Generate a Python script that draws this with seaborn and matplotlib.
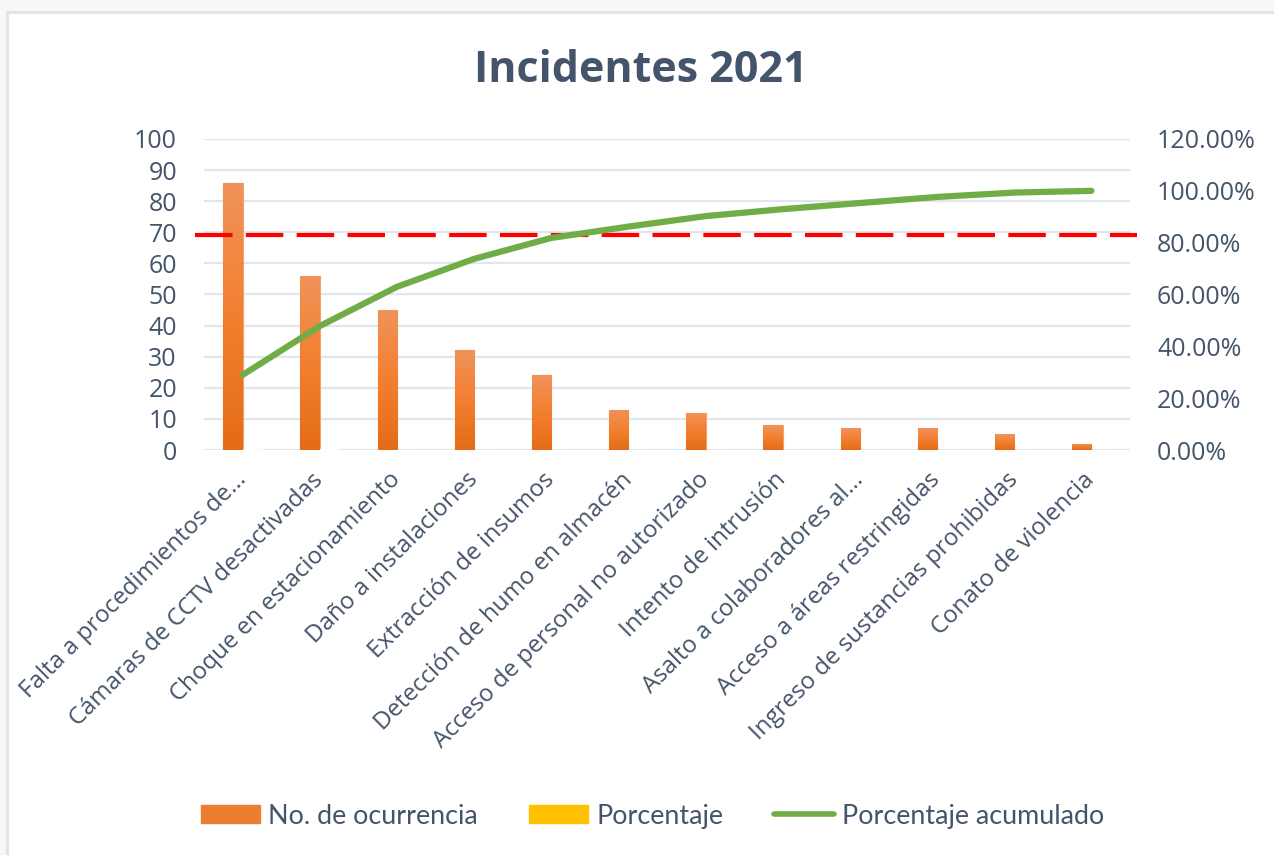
import numpy as np
import pandas as pd
import seaborn as sns
import matplotlib.pyplot as plt
from matplotlib.patches import Rectangle
from matplotlib.lines import Line2D
from matplotlib.patches import Patch
from matplotlib.ticker import FuncFormatter

# datos
categorias = ["Falta a procedimientos de...", "Cámaras de CCTV desactivadas",
              "Choque en estacionamiento", "Daño a instalaciones",
              "Extracción de insumos", "Detección de humo en almacén",
              "Acceso de personal no autorizado", "Intento de intrusión",
              "Asalto a colaboradores al...", "Acceso a áreas restringidas",
              "Ingreso de sustancias prohibidas", "Conato de violencia"]
ocurrencias = [86, 56, 45, 32, 24, 13, 12, 8, 7, 7, 5, 2]
porcentaje = [0.29, 0.19, 0.15, 0.11, 0.08, 0.04, 0.04, 0.03, 0.02, 0.02, 0.02, 0.01]
acumulado = [28.96, 47.81, 62.96, 73.74, 81.82, 86.20, 90.24, 92.93, 95.29, 97.64, 99.33, 100.0]
umbral = 69

sns.set_theme(style="white")
plt.rcParams['font.family'] = ['Open Sans', 'DejaVu Sans']

txt = '#44546A'
naranja = '#ED7D31'
amarillo = '#FFC000'
verde = '#70AD47'
fs = 18

df = pd.DataFrame({
    "categoria": categorias * 2,
    "valor": ocurrencias + porcentaje,
    "serie": ["No. de ocurrencia"] * len(categorias) + ["Porcentaje"] * len(categorias),
})

fig = plt.figure(figsize=(12.74, 8.55), dpi=100)
fig.patch.set_facecolor('#F7F7F7')
fig.patches.append(Rectangle((7/1274, -0.1), 1.2, 1 - 12/855 + 0.1, transform=fig.transFigure,
                             facecolor='white', edgecolor='#DEE3EA', linewidth=2, zorder=-5))

ax = fig.add_axes([204/1274, 1 - 450/855, 926/1274, 311/855])
ax.set_facecolor('none')
sns.barplot(data=df, x="categoria", y="valor", hue="serie", order=categorias,
            palette=[naranja, amarillo], width=0.5, gap=0, ax=ax, legend=False, zorder=3)

# degradado en las barras naranjas
grad = np.linspace(0, 1, 256).reshape(-1, 1)
cmap = sns.blend_palette(['#E46C17', '#F37F30', '#F0935A'], as_cmap=True)
for p in ax.patches[:len(categorias)]:
    x0, y0 = p.get_x(), p.get_y()
    w, h = p.get_width(), p.get_height()
    im = ax.imshow(grad, extent=[x0, x0 + w, y0, y0 + h], origin='lower', aspect='auto',
                   cmap=cmap, zorder=3.5)
    im.set_clip_path(p)
    p.set_edgecolor('#F5A06B')
    p.set_linewidth(0.8)

ax.set_xlim(-0.5, len(categorias) - 0.5)
ax.set_ylim(0, 100)
ax.set_yticks(np.arange(0, 101, 10))
ax.grid(axis='y', color='#E1E5EC', linewidth=1.6, zorder=0)
ax.set_axisbelow(True)
for s in ax.spines.values():
    s.set_visible(False)
ax.set_xlabel('')
ax.set_ylabel('')
ax.tick_params(axis='y', length=0, pad=19.5, labelsize=fs, labelcolor=txt)
ax.tick_params(axis='x', length=0, pad=19, labelsize=17.3, labelcolor=txt)
ax.set_xticks(range(len(categorias)))
ax.set_xticklabels(categorias, rotation=45, ha='right', va='center', rotation_mode='anchor')

ax2 = ax.twinx()
sns.lineplot(x=range(len(categorias)), y=acumulado, ax=ax2, color=verde, linewidth=4.5,
             solid_capstyle='round', zorder=4)
ax2.set_ylim(0, 120)
ax2.set_yticks(np.arange(0, 121, 20))
ax2.yaxis.set_major_formatter(FuncFormatter(lambda v, _: f"{v:.2f}%"))
ax2.tick_params(axis='y', length=0, pad=19.5, labelsize=fs, labelcolor=txt)
for s in ax2.spines.values():
    s.set_visible(False)
ax2.grid(False)
ax2.set_ylabel('')

ax.axhline(umbral, xmin=-0.01, xmax=1.008, color='#FF0000', linewidth=3,
           dashes=(9, 3.2), clip_on=False, zorder=5)

fig.text(0.503, 1 - 70/855, "Incidentes 2021", ha='center', va='center',
         fontsize=31, fontweight='bold', color=txt)

handles = [Patch(facecolor=naranja, edgecolor=naranja),
           Patch(facecolor=amarillo, edgecolor=amarillo),
           Line2D([0], [0], color=verde, linewidth=4, solid_capstyle='round')]
labels = ["No. de ocurrencia", "Porcentaje", "Porcentaje acumulado"]
fig.legend(handles, labels, loc='center', bbox_to_anchor=(0.512, 1 - 816/855), ncol=3,
           frameon=False, handlelength=2.2, handleheight=0.6, handletextpad=0.3,
           columnspacing=1.9, prop={'family': ['Lato', 'DejaVu Sans'], 'size': 19.4},
           labelcolor=txt)

fig.savefig("out.png", dpi=100, facecolor=fig.get_facecolor())
